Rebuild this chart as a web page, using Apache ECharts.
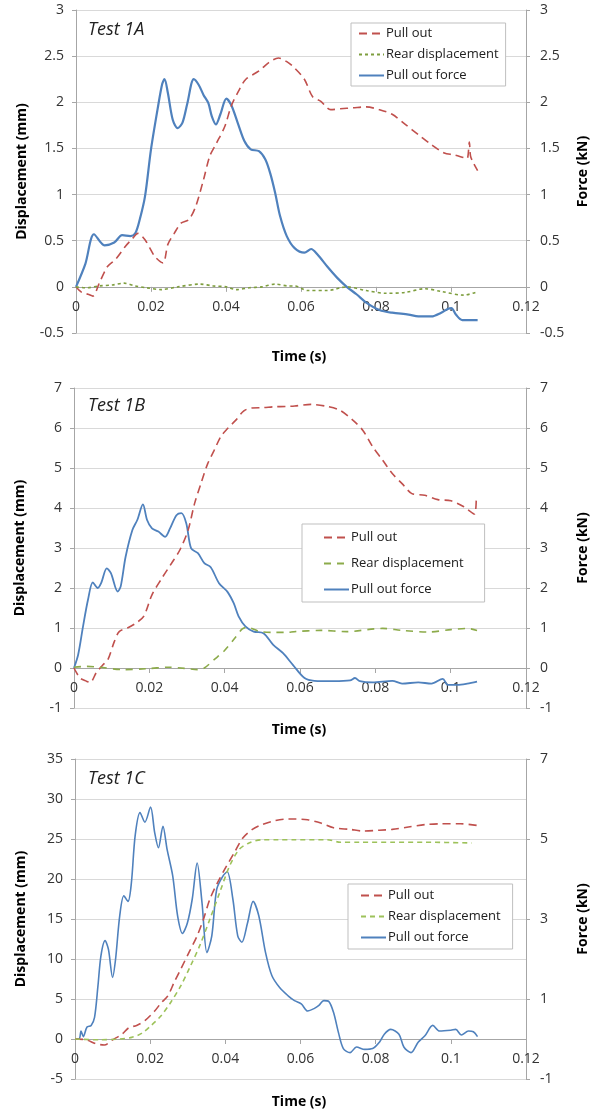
<!DOCTYPE html>
<html>
<head>
<meta charset="utf-8">
<script src="https://cdn.jsdelivr.net/npm/echarts@6/dist/echarts.min.js"></script>
<style>
  body { margin: 0; background: #fff; }
  .chart { position: absolute; left: 0; width: 598px; }
</style>
</head>
<body>
<div id="c1" class="chart" style="top:0;height:370px"></div>
<div id="c2" class="chart" style="top:370px;height:370px"></div>
<div id="c3" class="chart" style="top:740px;height:371px"></div>
<script>
// 图例名称
var seriesNames = ['Pull out', 'Rear displacement', 'Pull out force']
var timeTicks = [0, 0.02, 0.04, 0.06, 0.08, 0.1, 0.12]

// Test 1A  [time (s), value]
var pullOut1A = [[0,0],[0.0015,-0.06],[0.0032,-0.08],[0.0045,-0.1],[0.0062,0.04],[0.0084,0.22],[0.0106,0.3],[0.0132,0.44],[0.015,0.52],[0.0165,0.58],[0.0184,0.51],[0.021,0.33],[0.0232,0.26],[0.0245,0.46],[0.0262,0.58],[0.028,0.69],[0.0301,0.73],[0.0319,0.87],[0.034,1.16],[0.0357,1.42],[0.0375,1.56],[0.0397,1.74],[0.0414,1.96],[0.0436,2.14],[0.0453,2.25],[0.0488,2.34],[0.0514,2.43],[0.054,2.48],[0.0566,2.43],[0.0583,2.37],[0.0609,2.25],[0.0631,2.06],[0.0653,2.01],[0.0679,1.92],[0.0705,1.93],[0.0739,1.94],[0.0774,1.95],[0.0809,1.92],[0.0843,1.87],[0.0878,1.76],[0.0913,1.65],[0.0948,1.54],[0.0982,1.45],[0.1008,1.43],[0.1034,1.4],[0.1043,1.39],[0.1049,1.57],[0.1052,1.42],[0.106,1.34],[0.1071,1.26]]
var rear1A = [[0,0],[0.0028,-0.01],[0.0062,0.01],[0.0097,0.02],[0.0128,0.04],[0.0158,0.01],[0.0188,-0.01],[0.0227,-0.03],[0.0271,0],[0.0331,0.03],[0.0366,0.01],[0.0401,0],[0.0427,-0.03],[0.0462,-0.01],[0.0496,0],[0.0531,0.03],[0.0566,0.01],[0.0583,0.01],[0.0618,-0.04],[0.067,-0.04],[0.0722,0],[0.0774,-0.04],[0.0826,-0.07],[0.0878,-0.06],[0.093,-0.02],[0.0974,-0.05],[0.1034,-0.09],[0.1065,-0.06]]
var force1A = [[0,0],[0.0025,0.25],[0.0048,0.57],[0.0076,0.45],[0.0102,0.48],[0.0123,0.56],[0.0145,0.55],[0.0158,0.58],[0.017,0.73],[0.0184,0.98],[0.02,1.49],[0.0219,1.96],[0.023,2.2],[0.0236,2.25],[0.0245,2.1],[0.0258,1.81],[0.0271,1.72],[0.0284,1.78],[0.0297,1.99],[0.0314,2.25],[0.0327,2.19],[0.034,2.08],[0.0353,1.99],[0.0362,1.85],[0.0373,1.76],[0.0385,1.87],[0.0401,2.04],[0.0414,1.97],[0.0431,1.78],[0.0449,1.58],[0.0466,1.49],[0.0488,1.47],[0.0505,1.38],[0.0518,1.23],[0.0531,1.02],[0.0544,0.77],[0.0562,0.55],[0.0583,0.42],[0.0609,0.37],[0.0627,0.41],[0.0644,0.35],[0.067,0.22],[0.0696,0.1],[0.0722,0],[0.0748,-0.08],[0.0774,-0.17],[0.0809,-0.25],[0.0843,-0.28],[0.0887,-0.3],[0.0913,-0.32],[0.0948,-0.32],[0.0974,-0.28],[0.0991,-0.24],[0.1001,-0.23],[0.1013,-0.3],[0.103,-0.36],[0.1052,-0.36],[0.1071,-0.36]]

// Test 1B
var pullOut1B = [[0,0],[0.0016,-0.25],[0.0033,-0.33],[0.0043,-0.36],[0.0059,-0.12],[0.0077,0.08],[0.009,0.21],[0.0107,0.66],[0.012,0.91],[0.0142,1],[0.0164,1.12],[0.0185,1.29],[0.0207,1.83],[0.0233,2.24],[0.0259,2.62],[0.0281,2.95],[0.0303,3.45],[0.032,4.11],[0.0337,4.61],[0.0355,5.11],[0.0372,5.44],[0.039,5.79],[0.0407,5.98],[0.0429,6.19],[0.0451,6.43],[0.0472,6.5],[0.0503,6.51],[0.0529,6.53],[0.0564,6.54],[0.0586,6.55],[0.0629,6.59],[0.0672,6.54],[0.0707,6.44],[0.0741,6.19],[0.0767,5.94],[0.0793,5.53],[0.0819,5.2],[0.0845,4.86],[0.0871,4.61],[0.0897,4.36],[0.0931,4.32],[0.0966,4.21],[0.1001,4.18],[0.1035,4.03],[0.1063,3.85],[0.1068,4.28]]
var rear1B = [[0,0.02],[0.0033,0.04],[0.0068,0.02],[0.0129,-0.04],[0.019,-0.02],[0.025,0.02],[0.0294,-0.01],[0.0329,-0.04],[0.0346,0],[0.0372,0.21],[0.0398,0.42],[0.0424,0.71],[0.0446,0.97],[0.0459,1.02],[0.0494,0.91],[0.0529,0.89],[0.0564,0.89],[0.0586,0.91],[0.0655,0.94],[0.0724,0.91],[0.0819,0.99],[0.0871,0.94],[0.094,0.9],[0.1001,0.96],[0.1044,0.99],[0.107,0.94]]
var force1B = [[0,0],[0.0011,0.33],[0.0024,1.04],[0.0037,1.7],[0.005,2.14],[0.0063,2],[0.0072,2.12],[0.0087,2.49],[0.0098,2.37],[0.0116,1.91],[0.0124,2.04],[0.0137,2.78],[0.0155,3.45],[0.0168,3.7],[0.0183,4.09],[0.0194,3.7],[0.0207,3.49],[0.0224,3.41],[0.0242,3.28],[0.0255,3.49],[0.0272,3.82],[0.0285,3.87],[0.0298,3.62],[0.0311,2.99],[0.0329,2.87],[0.0346,2.62],[0.0363,2.52],[0.0385,2.12],[0.0407,1.91],[0.0424,1.62],[0.0437,1.29],[0.0455,1.04],[0.0477,0.91],[0.0503,0.87],[0.0529,0.58],[0.0555,0.37],[0.0581,0.08],[0.0612,-0.25],[0.0638,-0.32],[0.069,-0.33],[0.0733,-0.31],[0.0746,-0.25],[0.0759,-0.33],[0.0793,-0.36],[0.0845,-0.32],[0.0871,-0.39],[0.0914,-0.36],[0.0949,-0.39],[0.0979,-0.27],[0.0992,-0.42],[0.1018,-0.42],[0.1044,-0.39],[0.107,-0.34]]

// Test 1C (force in kN on right axis)
var pullOut1C = [[0,0],[0.003,-0.1],[0.0056,-0.6],[0.0078,-0.75],[0.01,-0.1],[0.0125,0.6],[0.0143,1.4],[0.0164,1.7],[0.0186,2.3],[0.0212,3.5],[0.0229,4.5],[0.0247,5.4],[0.0264,7.1],[0.0281,8.7],[0.0303,10.8],[0.0325,12.9],[0.0342,15],[0.0359,17.5],[0.0381,19.7],[0.0403,21.6],[0.0424,23.3],[0.0446,25.1],[0.0472,26.2],[0.0498,26.8],[0.0533,27.3],[0.0567,27.5],[0.0584,27.5],[0.0619,27.4],[0.0654,27],[0.0688,26.4],[0.0732,26.2],[0.0766,26],[0.081,26.1],[0.0844,26.2],[0.0887,26.5],[0.0931,26.8],[0.0974,26.9],[0.1026,26.9],[0.1069,26.7]]
var rear1C = [[0,0],[0.0065,-0.1],[0.0117,0],[0.0151,0.2],[0.0177,0.7],[0.0203,1.7],[0.0229,2.9],[0.0255,4.6],[0.0281,6.6],[0.0307,9.1],[0.0333,11.8],[0.0359,15],[0.0385,18.3],[0.0411,21.6],[0.0437,23.7],[0.0463,24.5],[0.0498,24.9],[0.0541,24.9],[0.0584,24.9],[0.0671,24.9],[0.0706,24.6],[0.0758,24.6],[0.0844,24.6],[0.0931,24.6],[0.1056,24.5]]
var force1C = [[0,0],[0.0011,0],[0.0016,0.2],[0.0022,0.06],[0.0032,0.3],[0.0043,0.34],[0.0052,0.54],[0.0061,1.32],[0.0069,2.08],[0.008,2.46],[0.0089,2.24],[0.01,1.54],[0.0108,2],[0.0119,3.08],[0.013,3.58],[0.0141,3.44],[0.015,3.9],[0.016,5.08],[0.0173,5.66],[0.0186,5.42],[0.0201,5.8],[0.0212,5.16],[0.0222,4.78],[0.0234,5.32],[0.0245,4.74],[0.026,4.08],[0.0273,3.08],[0.0286,2.64],[0.0299,2.9],[0.0312,3.5],[0.0325,4.4],[0.0338,3.4],[0.0351,2.16],[0.0364,2.58],[0.0377,3.74],[0.0394,4.08],[0.0405,4.18],[0.042,3.5],[0.0433,2.58],[0.0444,2.42],[0.0459,2.9],[0.0474,3.44],[0.0489,3.08],[0.0507,2.16],[0.0524,1.58],[0.0545,1.28],[0.0567,1.08],[0.0584,0.96],[0.0602,0.88],[0.0619,0.7],[0.0636,0.76],[0.0649,0.84],[0.0662,0.96],[0.0675,0.94],[0.0688,0.66],[0.0701,0.16],[0.0714,-0.24],[0.0732,-0.34],[0.0749,-0.2],[0.0771,-0.26],[0.0792,-0.24],[0.081,-0.08],[0.0823,0.12],[0.084,0.24],[0.0862,0.12],[0.0875,-0.2],[0.0894,-0.34],[0.0913,-0.08],[0.0931,0.08],[0.0952,0.34],[0.097,0.2],[0.1,0.22],[0.1013,0.24],[0.1028,0.1],[0.1047,0.2],[0.106,0.18],[0.1071,0.06]]

var FONT = 'Open Sans'
var TXT = '#333'

function yAxis(pos, min, max, interval, name, gap, grid) {
  return {
    type: 'value', position: pos, min: min, max: max, interval: interval,
    name: name, nameLocation: 'middle', nameGap: gap, nameRotate: 90,
    nameTextStyle: { fontFamily: FONT, fontSize: 14, fontWeight: 'bold', color: '#000' },
    axisLine: { show: true, onZero: false, lineStyle: { color: '#A6A6A6' } },
    axisTick: { show: true, length: 4, lineStyle: { color: '#A6A6A6' } },
    axisLabel: { fontFamily: FONT, fontSize: 14, color: TXT, margin: pos == 'left' ? 12 : 14 },
    splitLine: { show: grid, lineStyle: { color: '#D9D9D9', width: 1 } }
  }
}

function makeChart(id, c) {
  var chart = echarts.init(document.getElementById(id))
  // x 轴放在 y=0 处（onZero 在双 y 轴下不生效，用 offset 上移）
  var zeroOffset = -c.grid[3] * (0 - c.left[0]) / (c.left[1] - c.left[0])
  var option = {
    animation: false,
    title: [
      { text: c.title, left: 83, top: c.titleTop,
        textStyle: { fontFamily: FONT, fontSize: 18, fontStyle: 'italic', fontWeight: 'normal', color: '#222' } },
      { text: 'Time (s)', left: 'center', top: c.timeTop, padding: 0,
        textStyle: { fontFamily: FONT, fontSize: 14, fontWeight: 'bold', color: '#000' } }
    ],
    grid: { left: c.grid[0], top: c.grid[1], width: c.grid[2], height: c.grid[3] },
    legend: {
      data: seriesNames, orient: 'vertical', left: c.legend[0], top: c.legend[1],
      padding: c.legend[2], itemGap: c.legend[3], itemWidth: 25, itemHeight: 14,
      borderColor: '#BFBFBF', borderWidth: 1, backgroundColor: '#fff',
      itemStyle: { color: 'transparent', borderColor: 'transparent', borderWidth: 0 },
      textStyle: { fontFamily: FONT, fontSize: 13, color: '#202020', padding: [0, 0, 0, -3] }
    },
    xAxis: {
      type: 'value', min: 0, max: 0.12, interval: 0.02, position: 'bottom', offset: zeroOffset,
      axisLine: { onZero: false, lineStyle: { color: '#A6A6A6' } },
      axisTick: { show: true, length: 5, lineStyle: { color: '#A6A6A6' } },
      axisLabel: { fontFamily: FONT, fontSize: 14, color: TXT, margin: 13,
        formatter: function (v) { return String(+v.toFixed(2)) } },
      splitLine: { show: false }
    },
    yAxis: [
      yAxis('left', c.left[0], c.left[1], c.left[2], 'Displacement (mm)', 47, true),
      yAxis('right', c.right[0], c.right[1], c.right[2], 'Force (kN)', 50, false)
    ],
    series: [
      { name: seriesNames[0], type: 'line', data: c.pull, yAxisIndex: 0, symbol: 'none', smooth: 0.3,
        lineStyle: { color: '#C0504D', width: 1.6, type: [8, 5] }, itemStyle: { color: '#C0504D' } },
      { name: seriesNames[1], type: 'line', data: c.rear, yAxisIndex: 0, symbol: 'none', smooth: 0.3,
        lineStyle: { color: c.green, width: 1.6, type: c.greenDash }, itemStyle: { color: c.green } },
      { name: seriesNames[2], type: 'line', data: c.force, yAxisIndex: 1, symbol: 'none', smooth: 0.3,
        lineStyle: { color: '#4F81BD', width: c.blueW }, itemStyle: { color: '#4F81BD' }, z: 1 }
    ]
  }
  chart.setOption(option)
}

makeChart('c1', {
  title: 'Test 1A', titleTop: 16, timeTop: 350,
  grid: [76, 10, 461, 323],
  left: [-0.5, 3, 0.5], right: [-0.5, 3, 0.5],
  legend: [351, 23, [4, 7, 4, 7], 8],
  pull: pullOut1A, rear: rear1A, force: force1A,
  green: '#7E9E3E', greenDash: [3, 3], blueW: 2.2
})
makeChart('c2', {
  title: 'Test 1B', titleTop: 22, timeTop: 353,
  grid: [74, 18, 463, 320],
  left: [-1, 7, 1], right: [-1, 7, 1],
  legend: [302, 154, [7, 21, 6, 21], 13],
  pull: pullOut1B, rear: rear1B, force: force1B,
  green: '#8CAB4A', greenDash: [7, 6], blueW: 1.8
})
makeChart('c3', {
  title: 'Test 1C', titleTop: 25, timeTop: 355,
  grid: [75, 19, 462, 320],
  left: [-5, 35, 5], right: [-1, 7, 2],
  legend: [348, 144, [5, 12, 5, 12], 8],
  pull: pullOut1C, rear: rear1C, force: force1C,
  green: '#9DC25A', greenDash: [5, 4], blueW: 1.6
})
</script>
</body>
</html>
